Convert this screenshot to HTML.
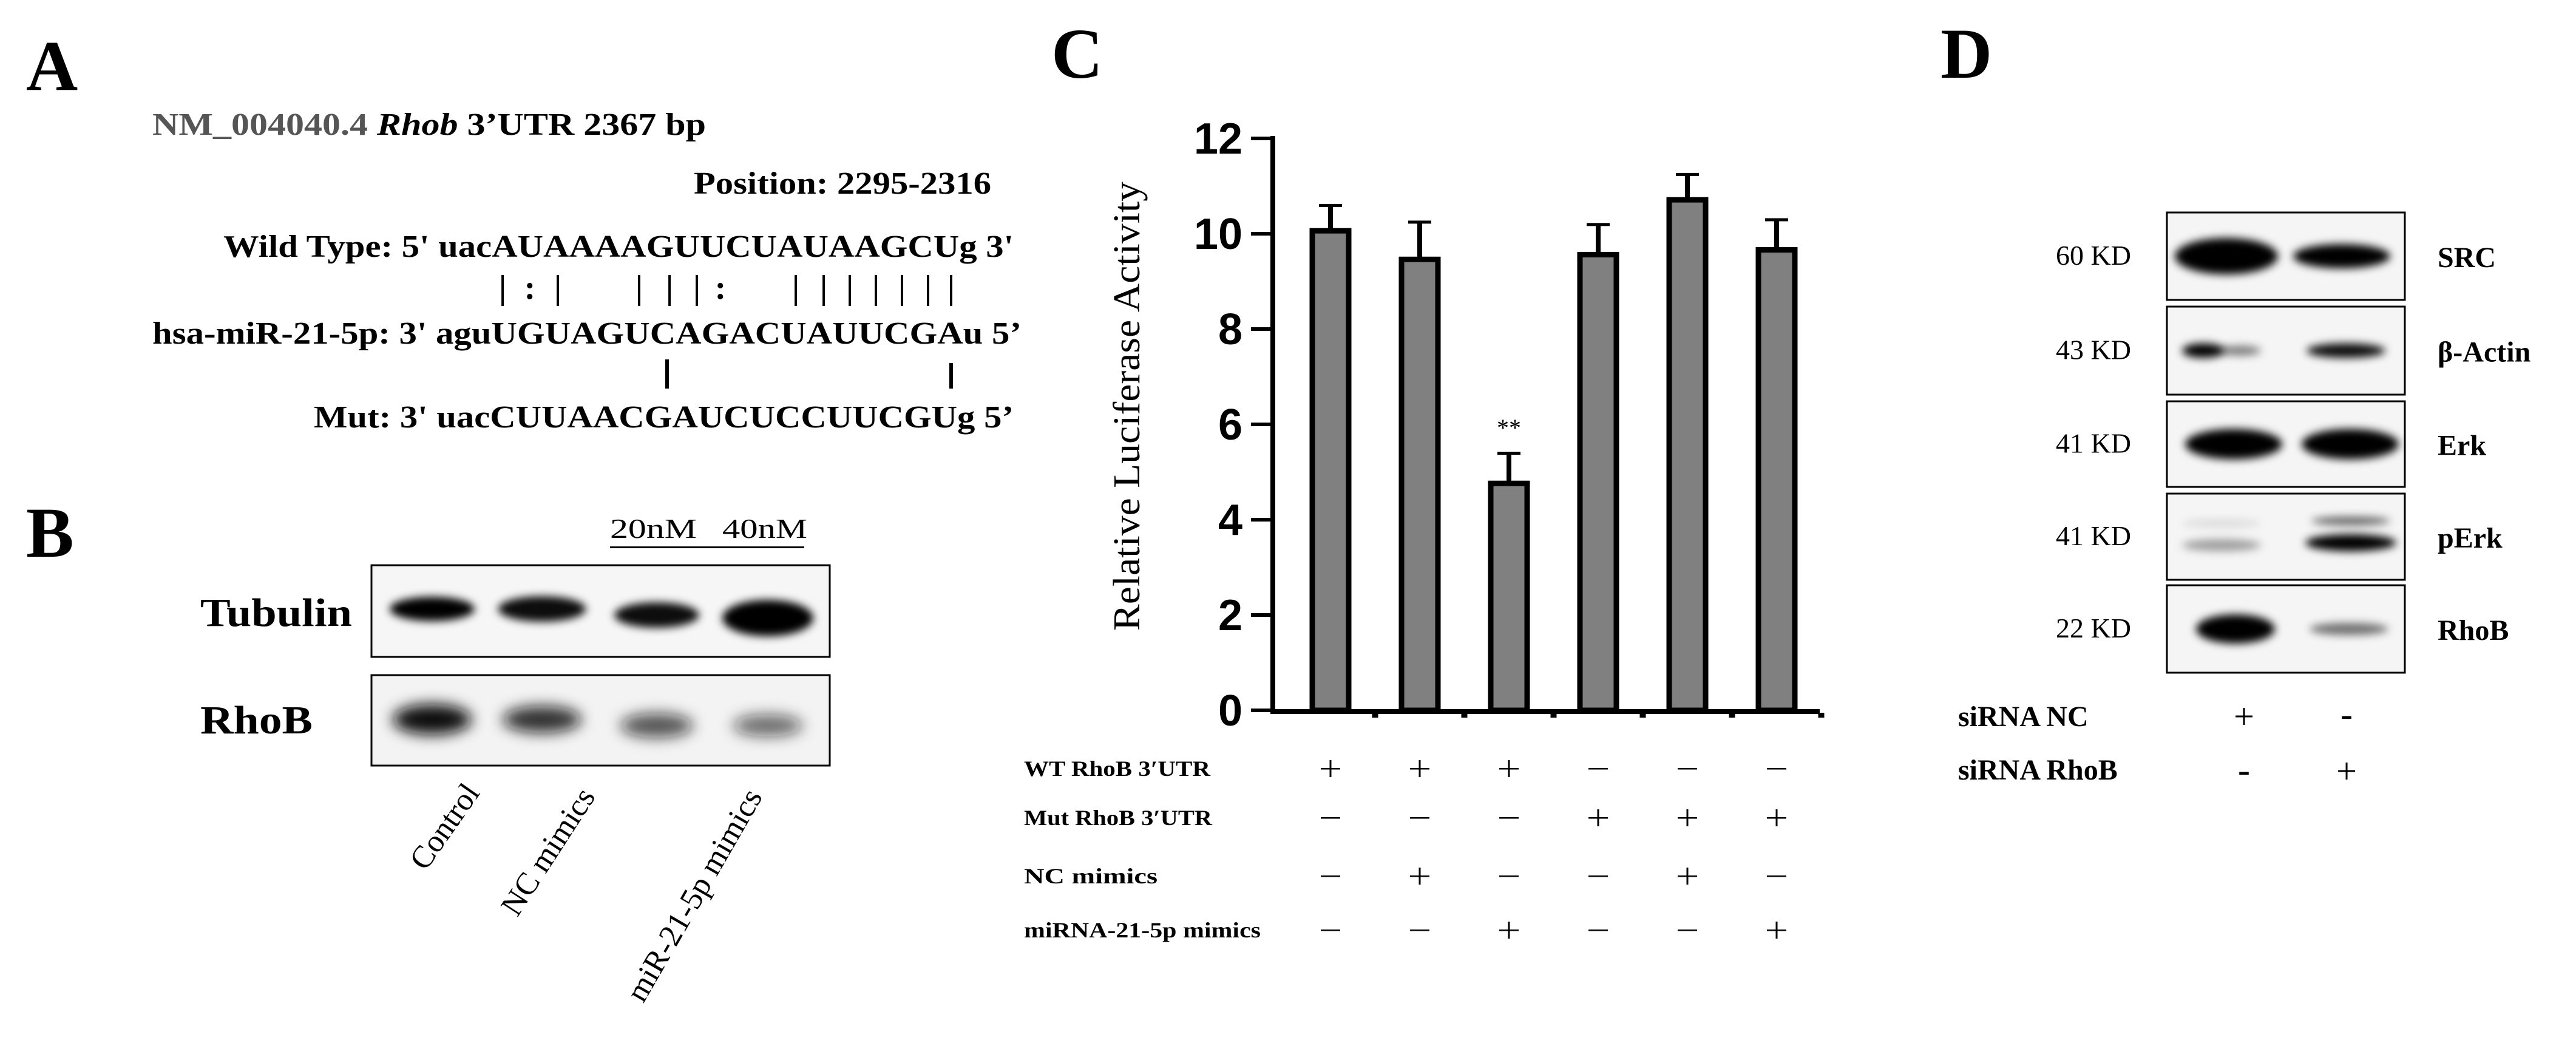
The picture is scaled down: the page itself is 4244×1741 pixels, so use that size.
<!DOCTYPE html>
<html><head><meta charset="utf-8"><style>
html,body{margin:0;padding:0;background:#fff;}
svg{display:block;}
.serif{font-family:"Liberation Serif",serif;}
.sans{font-family:"Liberation Sans",sans-serif;}
</style></head><body>
<svg id="fig" width="4244" height="1741" viewBox="0 0 4244 1741" xmlns="http://www.w3.org/2000/svg">
<defs>
<filter id="blur1" x="-20%" y="-100%" width="140%" height="300%"><feGaussianBlur stdDeviation="7"/></filter>
<filter id="blur2" x="-20%" y="-100%" width="140%" height="300%"><feGaussianBlur stdDeviation="12"/></filter>
</defs>

<!-- Panel A -->
<g class="serif" font-weight="bold">
<text x="43" y="148" font-size="118">A</text>
<text x="251" y="222" font-size="52" textLength="912" lengthAdjust="spacingAndGlyphs"><tspan fill="#555">NM_004040.4 </tspan> <tspan font-style="italic">Rhob</tspan> 3’UTR 2367 bp</text>
<text x="1143" y="319" font-size="52" textLength="490" lengthAdjust="spacingAndGlyphs">Position: 2295-2316</text>
<text x="368" y="423" font-size="52" textLength="1302" lengthAdjust="spacingAndGlyphs">Wild Type: 5' uacAUAAAAGUUCUAUAAGCUg  3'</text>
<g id="pairs"></g>
<text x="251" y="566" font-size="52" textLength="1432" lengthAdjust="spacingAndGlyphs">hsa-miR-21-5p: 3' aguUGUAGUCAGACUAUUCGAu  5’</text>
<rect x="1096" y="592" width="6" height="48" fill="#000"/>
<rect x="1564" y="598" width="6" height="42" fill="#000"/>
<text x="517" y="704" font-size="52" textLength="1153" lengthAdjust="spacingAndGlyphs">Mut: 3' uacCUUAACGAUCUCCUUCGUg  5’</text>
</g>

<!-- Panel B -->
<g class="serif">
<text x="43" y="917" font-size="118" font-weight="bold">B</text>
<text x="1005" y="886" font-size="46" textLength="143" lengthAdjust="spacingAndGlyphs">20nM</text>
<text x="1190" y="886" font-size="46" textLength="140" lengthAdjust="spacingAndGlyphs">40nM</text>
<rect x="1005" y="900" width="320" height="3" fill="#000"/>
<text x="330" y="1031" font-size="66" font-weight="bold" textLength="250" lengthAdjust="spacingAndGlyphs">Tubulin</text>
<text x="330" y="1208" font-size="66" font-weight="bold" textLength="185" lengthAdjust="spacingAndGlyphs">RhoB</text>
<rect x="612" y="931" width="755" height="151" fill="#f6f6f6" stroke="#000" stroke-width="3"/>
<rect x="612" y="1112" width="755" height="149" fill="#f3f3f3" stroke="#000" stroke-width="3"/>
<g id="bbands"></g>
<text transform="translate(792,1306) rotate(-55)" font-size="52" text-anchor="end">Control</text>
<text transform="translate(982,1312) rotate(-57)" font-size="52" text-anchor="end">NC mimics</text>
<text transform="translate(1257,1312) rotate(-60)" font-size="52" text-anchor="end">miR-21-5p mimics</text>
</g>

<!-- Panel C -->
<g>
<text x="1732" y="128" font-size="118" font-weight="bold" class="serif">C</text>
<text transform="translate(1877,669) rotate(-90)" font-size="62" text-anchor="middle" class="serif" textLength="740" lengthAdjust="spacingAndGlyphs">Relative Luciferase Activity</text>
<g id="chart"></g>
</g>

<!-- Panel D -->
<g class="serif">
<text x="3197" y="128" font-size="118" font-weight="bold">D</text>
<g id="dblots"></g>
<text x="3226" y="1196" font-size="48" font-weight="bold">siRNA NC</text>
<text x="3226" y="1284" font-size="48" font-weight="bold">siRNA RhoB</text>
<text x="3697" y="1200" font-size="60" text-anchor="middle">+</text>
<text x="3866" y="1196" font-size="60" text-anchor="middle">-</text>
<text x="3697" y="1288" font-size="60" text-anchor="middle">-</text>
<text x="3866" y="1290" font-size="60" text-anchor="middle">+</text>
</g>
</svg>
<script>
const NS='http://www.w3.org/2000/svg';
// ---- chart data (panel C) ----
const categories=['WT+ctrl','WT+NC','WT+miR','Mut+ctrl','Mut+NC','Mut+miR'];
const meanValues=[10.1,9.5,4.8,9.6,10.75,9.7];
const errorValues=[0.5,0.75,0.6,0.6,0.5,0.6];
const yTicks=[0,2,4,6,8,10,12];
const rowLabels=['WT  RhoB 3′UTR','Mut RhoB 3′UTR','NC  mimics','miRNA-21-5p mimics'];
const rowWT=['+','+','+','-','-','-'];
const rowMut=['-','-','-','+','+','+'];
const rowNC=['-','+','-','-','+','-'];
const rowMir=['-','-','+','-','-','+'];

function mk(tag,attrs,parent){const e=document.createElementNS(NS,tag);for(const k in attrs)e.setAttribute(k,attrs[k]);parent.appendChild(e);return e;}

// pairing marks panel A
const pairs=document.getElementById('pairs');
[[828,'|'],[873,':'],[919,'|'],[1053,'|'],[1103,'|'],[1148,'|'],[1187,':'],[1311,'|'],[1357,'|'],[1400,'|'],[1443,'|'],[1486,'|'],[1529,'|'],[1567,'|']].forEach(p=>{
 const t=mk('text',{x:p[0],y:492,'font-size':56,'text-anchor':'middle','font-weight':'bold'},pairs);
 
 
 t.textContent=p[1];
});

// panel B bands
const bb=document.getElementById('bbands');
const bLanes=[712,893,1082,1265];
const tubW=[[140,40,1],[145,42,0.95],[140,42,0.95],[150,60,1]];
const rhoW=[[130,50,1],[130,44,0.85],[120,40,0.7],[115,36,0.6]];
bLanes.forEach((cx,i)=>{
 const b=mk('ellipse',{cx:cx,cy:1003+(i>1?10:0)+(i==3?5:0),rx:tubW[i][0]/2,ry:tubW[i][1]/2,fill:'#000','fill-opacity':tubW[i][2],filter:'url(#blur1)'},bb);
 
 
 const r=mk('ellipse',{cx:cx,cy:1185+(i>1?10:0),rx:rhoW[i][0]/2,ry:rhoW[i][1]/2,fill:'#111','fill-opacity':rhoW[i][2],filter:'url(#blur2)'},bb);
 
 
});

// panel C chart
const chart=document.getElementById('chart');
const X0=2097,Y0=1170,YT=228,ymax=12;
const y=v=>Y0-(Y0-YT)*v/ymax;
const step=147,first=2192,barW=68;
const xc=i=>first+i*step;
// axes
const ya=mk('rect',{x:X0-4,y:YT-4,width:8,height:Y0-YT+8,fill:'#000'},chart);


const xa=mk('rect',{x:X0-4,y:Y0-2,width:3002-X0,height:8,fill:'#000'},chart);


yTicks.forEach(v=>{
 const tk=mk('rect',{x:X0-36,y:y(v)-3,width:36,height:6,fill:'#000'},chart);
 
 
 const t=mk('text',{x:2047,y:y(v)+25,'font-size':72,'font-weight':'bold','text-anchor':'end','font-family':'Liberation Sans, sans-serif'},chart);
 
 
 t.textContent=v;
});
for(let i=0;i<categories.length;i++){
 const tk=mk('rect',{x:xc(i)+step/2-5,y:Y0+4,width:10,height:8,fill:'#000'},chart);
 
 
}
categories.forEach((c,i)=>{
 const top=y(meanValues[i]),etop=y(meanValues[i]+errorValues[i]);
 const st=mk('rect',{x:xc(i)-4,y:etop,width:8,height:top-etop,fill:'#000'},chart);
 
 
 const cap=mk('rect',{x:xc(i)-19,y:etop-2,width:38,height:5,fill:'#000'},chart);
 
 
 const b=mk('rect',{x:xc(i)-barW/2+4,y:top+3,width:barW-8,height:Y0-top-3,fill:'#808080',stroke:'#000','stroke-width':9},chart);
 
 
});
const star=mk('text',{x:xc(2),y:y(meanValues[2]+errorValues[2])+(-28),'font-size':40,'text-anchor':'middle','font-family':'Liberation Serif, serif'},chart);


star.textContent='**';
const rowsY=[1266,1347,1443,1532];
const rows=[rowWT,rowMut,rowNC,rowMir];
const lblLen=[307,310,220,390];
rowLabels.forEach((l,r)=>{
 const t=mk('text',{x:1687,y:rowsY[r]+12,'font-size':36,'font-weight':'bold','font-family':'Liberation Serif, serif',textLength:lblLen[r],lengthAdjust:'spacingAndGlyphs'},chart);
 
 
 t.textContent=l;
 rows[r].forEach((s,i)=>{
  const h=mk('rect',{x:xc(i)-16,y:rowsY[r]-1,width:32,height:2.5,fill:'#000'},chart);
  
  
  if(s==='+'){
   const v=mk('rect',{x:xc(i)-1.5,y:rowsY[r]-14,width:3,height:28,fill:'#000'},chart);
   
   
  }
 });
});

// panel D blots
const db=document.getElementById('dblots');
const dRows=[[350,494,'60 KD','SRC'],[505,650,'43 KD','β-Actin'],[661,802,'41 KD','Erk'],[813,955,'41 KD','pErk'],[964,1108,'22 KD','RhoB']];
const dBands=[
 [[3668,0,170,60,1],[3858,0,160,40,1]],
 [[3630,0,70,24,1],[3690,0,70,16,0.5],[3865,0,130,24,0.95]],
 [[3680,0,160,50,1],[3872,0,160,50,1]],
 [[3660,14,130,20,0.35],[3660,-22,130,12,0.12],[3873,10,150,28,1],[3873,-26,130,14,0.6]],
 [[3683,0,130,48,1],[3870,0,130,20,0.55]]
];
dRows.forEach((r,i)=>{
 const box=mk('rect',{x:3570,y:r[0],width:392,height:r[1]-r[0],fill:'#f5f5f5',stroke:'#000','stroke-width':3},db);
 
 
 const cy=(r[0]+r[1])/2;
 dBands[i].forEach(b=>{
  const e=mk('ellipse',{cx:b[0],cy:cy+b[1],rx:b[2]/2,ry:b[3]/2,fill:'#000','fill-opacity':b[4],filter:'url(#blur1)'},db);
  
  
 });
 const k=mk('text',{x:3511,y:cy+14,'font-size':46,'text-anchor':'end'},db);
 
 
 k.textContent=r[2];
 const p=mk('text',{x:4016,y:cy+18,'font-size':48,'font-weight':'bold'},db);
 
 
 p.textContent=r[3];
});
</script>
</body></html>
